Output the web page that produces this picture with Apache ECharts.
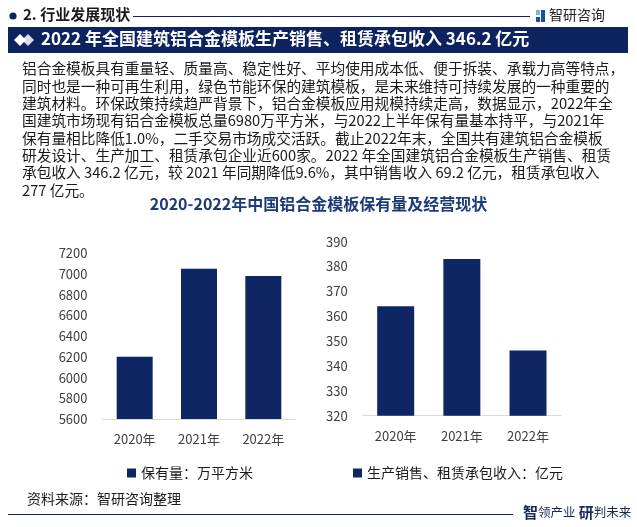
<!DOCTYPE html>
<html>
<head>
<meta charset="utf-8">
<script src="https://cdn.jsdelivr.net/npm/echarts@6/dist/echarts.min.js"></script>
<style>
html,body{margin:0;padding:0;background:#fff;}
#main{width:637px;height:527px;}
</style>
</head>
<body>
<div id="main"></div>
<script>
// ---- data ----
const categories = ['2020年', '2021年', '2022年'];
const holdings = [6200, 7050, 6980];          // 保有量：万平方米
const revenue = [364, 383, 346.2];            // 生产销售、租赁承包收入：亿元
const leftAxis = { min: 5600, max: 7200, interval: 200 };
const rightAxis = { min: 320, max: 390, interval: 10 };
const seriesNames = ['保有量：万平方米', '生产销售、租赁承包收入：亿元'];
const sectionTitle = '2. 行业发展现状';
const bannerTitle = '2022 年全国建筑铝合金模板生产销售、租赁承包收入 346.2 亿元';
const chartTitle = '2020-2022年中国铝合金模板保有量及经营现状';
const paraLines = [
  '铝合金模板具有重量轻、质量高、稳定性好、平均使用成本低、便于拆装、承载力高等特点，',
  '同时也是一种可再生利用，绿色节能环保的建筑模板，是未来维持可持续发展的一种重要的',
  '建筑材料。环保政策持续趋严背景下，铝合金模板应用规模持续走高，数据显示，2022年全',
  '国建筑市场现有铝合金模板总量6980万平方米，与2022上半年保有量基本持平，与2021年',
  '保有量相比降低1.0%，二手交易市场成交活跃。截止2022年末，全国共有建筑铝合金模板',
  '研发设计、生产加工、租赁承包企业近600家。2022 年全国建筑铝合金模板生产销售、租赁',
  '承包收入 346.2 亿元，较 2021 年同期降低9.6%，其中销售收入 69.2 亿元，租赁承包收入',
  '277 亿元。'
];
const sourceText = '资料来源：智研咨询整理';
const logoText = '智研咨询';

const FONT = '"Noto Sans CJK SC", "Noto Sans", sans-serif';
const NAVY = '#0d2360';
const BAR = '#0e2664';

const chart = echarts.init(document.getElementById('main'), null, { renderer: 'canvas' });

const graphics = [];
// header
graphics.push({ type: 'circle', shape: { cx: 13, cy: 16, r: 3.6 }, style: { fill: NAVY } });
graphics.push({ type: 'text', left: 23, top: 7, style: { text: sectionTitle, font: 'bold 15px ' + FONT, fill: '#1a1a1a' } });
graphics.push({ type: 'line', shape: { x1: 133, y1: 16.5, x2: 530, y2: 16.5 }, style: { stroke: NAVY, lineWidth: 1 } });
// logo icon
graphics.push({ type: 'rect', shape: { x: 536, y: 10, width: 4, height: 5 }, style: { fill: '#7fb1e6' } });
graphics.push({ type: 'rect', shape: { x: 541, y: 10, width: 4, height: 12 }, style: { fill: '#1b4fa0' } });
graphics.push({ type: 'rect', shape: { x: 536, y: 17, width: 4, height: 5 }, style: { fill: '#1b4fa0' } });
graphics.push({ type: 'text', left: 549, top: 8, style: { text: logoText, font: '14px ' + FONT, fill: '#222' } });
// banner
graphics.push({ type: 'rect', shape: { x: 8, y: 27, width: 620, height: 26 }, style: { fill: NAVY } });
graphics.push({ type: 'polygon', shape: { points: [[28, 34], [34, 40], [28, 46], [22, 40]] }, style: { fill: '#d9dde8' } });
graphics.push({ type: 'polygon', shape: { points: [[20, 34], [26, 40], [20, 46], [14, 40]] }, style: { fill: '#ffffff' } });
graphics.push({ type: 'text', left: 41, top: 30, style: { text: bannerTitle, font: 'bold 17px ' + FONT, fill: '#ffffff' } });
// paragraph
paraLines.forEach(function (line, i) {
  graphics.push({ type: 'text', left: 22, top: 61.5 + i * 17.3, style: { text: line, font: '14.7px ' + FONT, fill: '#1a1a1a' } });
});
// footer
graphics.push({ type: 'text', left: 27, top: 492, style: { text: sourceText, font: '14px ' + FONT, fill: '#1a1a1a' } });
graphics.push({ type: 'line', shape: { x1: 8, y1: 514.5, x2: 513, y2: 514.5 }, style: { stroke: NAVY, lineWidth: 1.2 } });
graphics.push({
  type: 'text', left: 523, top: 505,
  style: {
    text: '{a|智}{b|领产业} {a|研}{b|判未来}',
    rich: {
      a: { fontSize: 15, fontWeight: 'bold', fontFamily: FONT, fill: '#1a2a55' },
      b: { fontSize: 12.5, fontFamily: FONT, fill: '#1a2a55' }
    }
  }
});

const axisLabelStyle = { color: '#404040', fontSize: 13, fontFamily: FONT };
const plainNum = function (v) { return String(v); };

const option = {
  animation: false,
  backgroundColor: '#ffffff',
  textStyle: { fontFamily: FONT },
  title: {
    text: chartTitle, left: 'center', top: 191,
    textStyle: { fontSize: 16, fontWeight: 'bold', color: '#1b3a78', fontFamily: FONT }
  },
  legend: [
    { data: [seriesNames[0]], left: 122, top: 461, icon: 'rect', itemWidth: 9, itemHeight: 9, itemGap: 5,
      textStyle: { fontSize: 14, color: '#1a1a1a', fontFamily: FONT } },
    { data: [seriesNames[1]], left: 348, top: 461, icon: 'rect', itemWidth: 9, itemHeight: 9, itemGap: 5,
      textStyle: { fontSize: 14, color: '#1a1a1a', fontFamily: FONT } }
  ],
  grid: [
    { left: 102.5, top: 253.3, width: 193, height: 165.7 },
    { left: 362.6, top: 241.7, width: 198.5, height: 174 }
  ],
  xAxis: [
    { gridIndex: 0, type: 'category', data: categories,
      axisLine: { lineStyle: { color: '#d9d9d9' } }, axisTick: { show: false },
      axisLabel: Object.assign({ margin: 14 }, axisLabelStyle) },
    { gridIndex: 1, type: 'category', data: categories,
      axisLine: { lineStyle: { color: '#d9d9d9' } }, axisTick: { show: false },
      axisLabel: Object.assign({ margin: 14 }, axisLabelStyle) }
  ],
  yAxis: [
    { gridIndex: 0, type: 'value', min: leftAxis.min, max: leftAxis.max, interval: leftAxis.interval,
      axisLine: { show: false }, axisTick: { show: false }, splitLine: { show: false },
      axisLabel: Object.assign({ margin: 15, formatter: plainNum }, axisLabelStyle) },
    { gridIndex: 1, type: 'value', min: rightAxis.min, max: rightAxis.max, interval: rightAxis.interval,
      axisLine: { show: false }, axisTick: { show: false }, splitLine: { show: false },
      axisLabel: Object.assign({ margin: 15, formatter: plainNum }, axisLabelStyle) }
  ],
  series: [
    { type: 'bar', name: seriesNames[0], xAxisIndex: 0, yAxisIndex: 0, data: holdings,
      barWidth: 36, itemStyle: { color: BAR } },
    { type: 'bar', name: seriesNames[1], xAxisIndex: 1, yAxisIndex: 1, data: revenue,
      barWidth: 37, itemStyle: { color: BAR } }
  ],
  graphic: graphics
};
chart.setOption(option);
</script>
</body>
</html>
